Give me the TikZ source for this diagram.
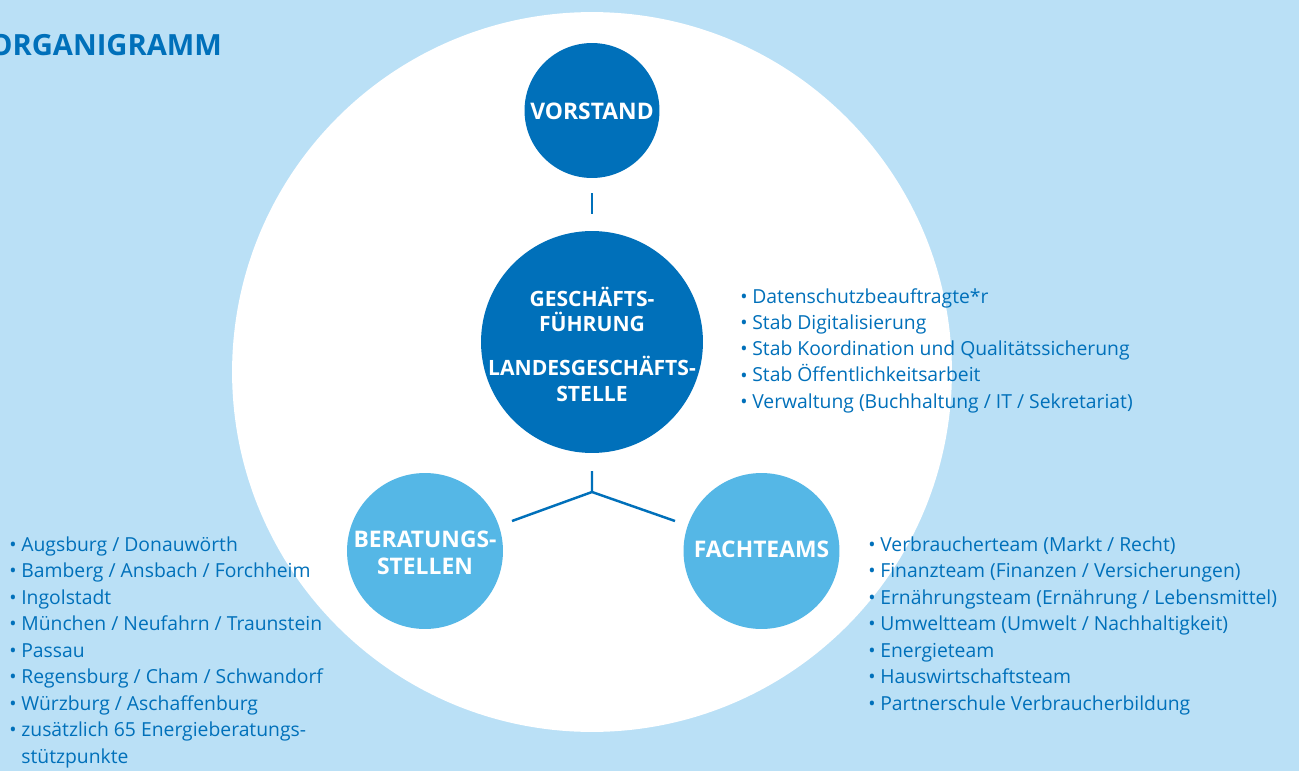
\documentclass[tikz,border=0pt]{standalone}
\usepackage{fontspec}
\setmainfont{Open Sans}
\definecolor{bgblue}{HTML}{BAE0F6}
\definecolor{darkblue}{HTML}{0070BA}
\definecolor{lightblue}{HTML}{55B7E6}
\newcommand{\blt}{\makebox[0.24cm][l]{\raisebox{-0.02em}{•}}}

\begin{document}
\begin{tikzpicture}[x=0.02cm,y=-0.02cm,
    bubble/.style={circle,inner sep=0pt},
    bubbletext/.style={inner sep=0pt,align=center,text=white,
      font=\bfseries\fontsize{13}{15.1}\selectfont},
    item/.style={anchor=base west,inner sep=0pt,text=darkblue,
      font=\fontsize{11}{13}\selectfont},
    link/.style={darkblue,line width=1.4pt}]
  \clip (0,0) rectangle (1299,771);
  \fill[bgblue] (0,0) rectangle (1299,771);
  \node[circle,fill=white,minimum size=14.4cm] (ring) at (592,372) {};
  % title
  \node[anchor=base west,inner sep=0pt,text=darkblue,
    font=\bfseries\fontsize{16.6}{20}\selectfont] (title) at (-11,55) {ORGANIGRAMM};
  % circles
  \node[bubble,fill=darkblue,minimum size=2.7cm] (vorstand) at (592,110.5) {};
  \node[bubble,fill=darkblue,minimum size=4.44cm] (gf) at (592,342) {};
  \node[bubble,fill=lightblue,minimum size=3.12cm] (beratung) at (425,551) {};
  \node[bubble,fill=lightblue,minimum size=3.12cm] (fachteams) at (761.5,551) {};
  \node[bubbletext] (vorstandtext) at (592,111) {VORSTAND};
  \node[bubbletext,font=\bfseries\fontsize{12}{14.5}\selectfont] (gftext) at (592,344)
    {GESCHÄFTS-\\FÜHRUNG\\[0.37cm]LANDESGESCHÄFTS-\\STELLE};
  \node[bubbletext] (beratungtext) at (425,553) {BERATUNGS-\\STELLEN};
  \node[bubbletext] (fachteamstext) at (761.5,549) {FACHTEAMS};
  % connectors
  \coordinate (v1) at (592,193);
  \coordinate (v2) at (592,214);
  \draw[link] (v1) -- (v2);
  \coordinate (y1) at (592,471);
  \coordinate (y0) at (592,492);
  \coordinate (yl) at (512,521);
  \coordinate (yr) at (675,521);
  \draw[link] (y1) -- (y0) -- (yl);
  \draw[link] (y0) -- (yr);
  % lists
  \foreach \t [count=\i] in {Datenschutzbeauftragte*r, Stab Digitalisierung,
      Stab Koordination und Qualitätssicherung, Stab Öffentlichkeitsarbeit,
      Verwaltung (Buchhaltung / IT / Sekretariat)}
    \node[item] (gfl\i) at (740,{303+26.3*(\i-1)}) {\blt\t};
  \foreach \t [count=\i] in {Augsburg / Donauwörth, Bamberg / Ansbach / Forchheim,
      Ingolstadt, München / Neufahrn / Traunstein, Passau,
      Regensburg / Cham / Schwandorf, Würzburg / Aschaffenburg,
      zusätzlich 65 Energieberatungs-}
    \node[item] (bsl\i) at (9,{551+26.5*(\i-1)}) {\blt\t};
  \node[item] (bsl9) at (9,763) {\makebox[0.24cm]{}stützpunkte};
  \foreach \t [count=\i] in {Verbraucherteam (Markt / Recht),
      Finanzteam (Finanzen / Versicherungen),
      Ernährungsteam (Ernährung / Lebensmittel),
      Umweltteam (Umwelt / Nachhaltigkeit), Energieteam,
      Hauswirtschaftsteam, Partnerschule Verbraucherbildung}
    \node[item] (ftl\i) at (868,{551+26.5*(\i-1)}) {\blt\t};
\end{tikzpicture}
\end{document}
